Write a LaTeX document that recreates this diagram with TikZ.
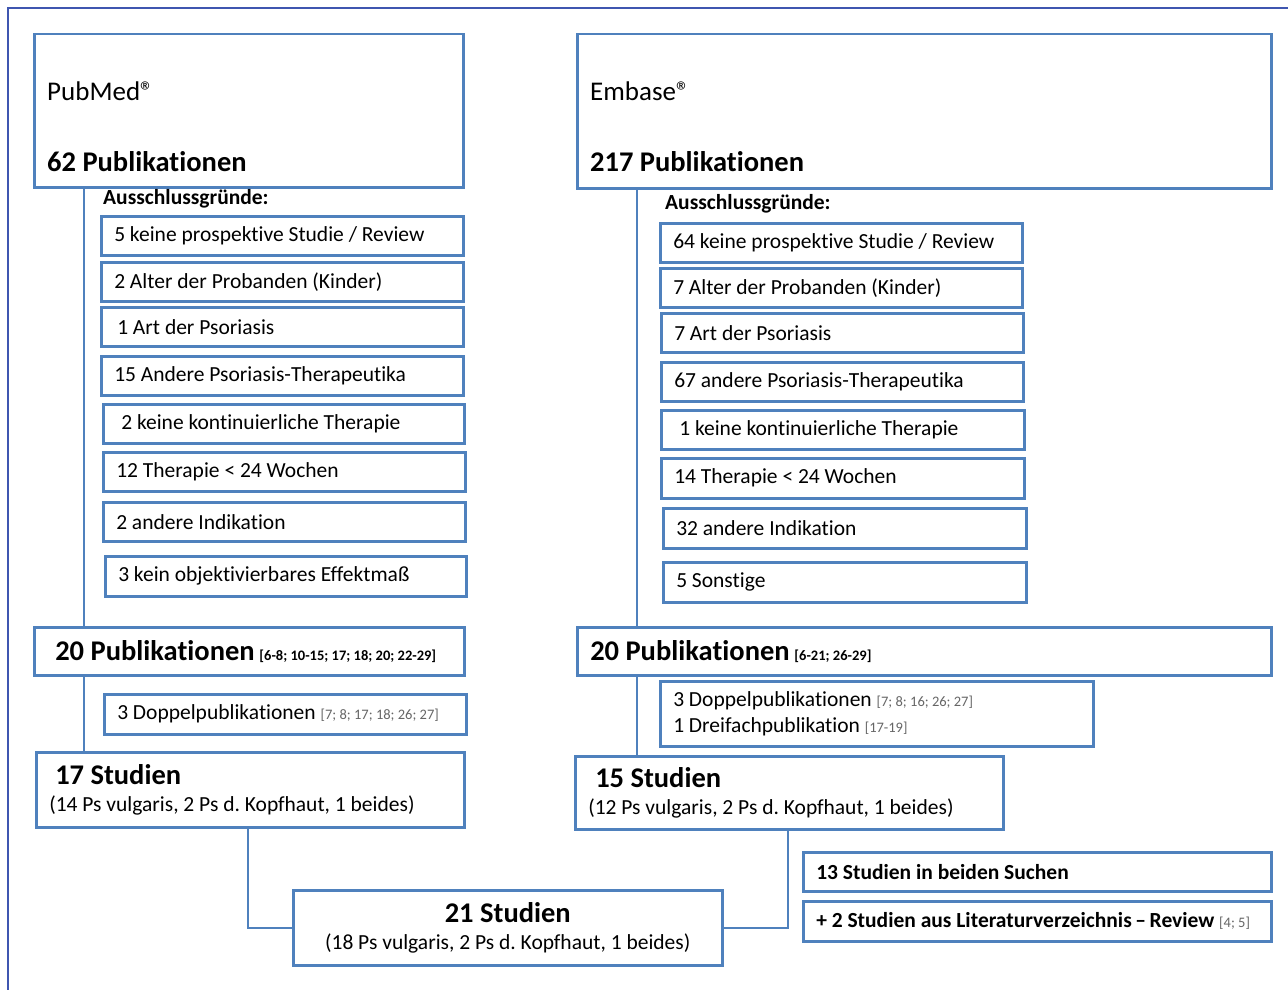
\documentclass[tikz,border=0pt]{standalone}
\usepackage{fontspec}
\setmainfont{Carlito}[Ligatures=NoCommon]
\usetikzlibrary{positioning}
\definecolor{boxblue}{HTML}{4F81BD}
\definecolor{frameblue}{HTML}{3F56B0}
\frenchspacing
\newcommand{\tightsp}{\spaceskip=0.226em\xspaceskip=\spaceskip\relax}
\newcommand{\fsz}[1]{\fontsize{#1}{1.17\dimexpr #1pt\relax}\selectfont\tightsp}
\newcommand{\refb}[1]{{\fsz{14.5}\bfseries #1}}
\newcommand{\refg}[1]{{\fsz{14.5}\color{black!60}#1}}
\newcommand{\regmark}{{\fsz{27}®}}

\begin{document}
\begin{tikzpicture}[x=1pt,y=-1pt,
    box/.style={draw=boxblue,line width=2.5pt,fill=white,anchor=north west,align=left,inner xsep=13pt,inner ysep=0pt,font=\fsz{21.5},execute at begin node=\tightsp},
    lbl/.style={inner sep=0pt},
    big/.style={font=\fsz{28.5}\bfseries},
    link/.style={draw=boxblue,line width=2.5pt},
    frame/.style={draw=frameblue,line width=1.2pt}]

    \useasboundingbox (0,0) rectangle (1288,990);
    \draw[frame] (8,990) -- (8,8) -- (1288,8);

    % PubMed
    \node[box,minimum height=153pt,text width=403pt] (pubmed) at (33,33) {};
    \node[lbl,anchor=base west,font=\fsz{27}] (pubmedname) at ([shift={(14,67)}]pubmed.north west) {PubMed\regmark};
    \node[lbl,big,anchor=base west] (pubmedcount) at ([shift={(14,138)}]pubmed.north west) {62 Publikationen};
    \node[lbl,anchor=west,font=\fsz{21.5}\bfseries] (ausl) at (103,199) {Ausschlussgründe:};

    \node[box,minimum height=39pt,text width=336pt] (exl1) at (100,215) {5 keine prospektive Studie / Review};
    \node[box,minimum height=39pt,text width=336pt] (exl2) at (100,261) {2 Alter der Probanden (Kinder)};
    \node[box,minimum height=39pt,text width=336pt] (exl3) at (100,306) {\hspace{3pt}1 Art der Psoriasis};
    \node[box,minimum height=39pt,text width=336pt] (exl4) at (100,355) {15 Andere Psoriasis-Therapeutika};
    \node[box,minimum height=39pt,text width=335pt] (exl5) at (102,403) {\hspace{5pt}2 keine kontinuierliche Therapie};
    \node[box,minimum height=39pt,text width=336pt] (exl6) at (102,451) {12 Therapie < 24 Wochen};
    \node[box,minimum height=39pt,text width=336pt] (exl7) at (102,501) {2 andere Indikation};
    \node[box,minimum height=40pt,text width=335pt] (exl8) at (104,555) {3 kein objektivierbares Effektmaß};

    \node[box,minimum height=48pt,text width=404pt] (pub20l) at (33,626) {\hspace{8pt}{\fsz{28.5}\bfseries 20 Publikationen} \refb{[6-8; 10-15; 17; 18; 20; 22-29]}};
    \node[box,minimum height=40pt,text width=336pt] (doppl) at (103,693) {3 Doppelpublikationen \refg{[7; 8; 17; 18; 26; 27]}};
    \node[box,minimum height=75pt,text width=402pt] (stud17) at (35,751) {\hspace{6pt}{\fsz{28.5}\bfseries 17 Studien}\\[2pt](14 Ps vulgaris, 2 Ps d. Kopfhaut, 1 beides)};

    % Embase
    \node[box,minimum height=154pt,text width=668pt] (embase) at (576,33) {};
    \node[lbl,anchor=base west,font=\fsz{27}] (embasename) at ([shift={(14,67)}]embase.north west) {Embase\regmark};
    \node[lbl,big,anchor=base west] (embasecount) at ([shift={(14,138)}]embase.north west) {217 Publikationen};
    \node[lbl,anchor=west,font=\fsz{21.5}\bfseries] (ausr) at (665,204) {Ausschlussgründe:};

    \node[box,minimum height=39pt,text width=336pt] (exr1) at (659,222) {64 keine prospektive Studie / Review};
    \node[box,minimum height=39pt,text width=336pt] (exr2) at (659,267) {7 Alter der Probanden (Kinder)};
    \node[box,minimum height=39pt,text width=336pt] (exr3) at (660,312) {7 Art der Psoriasis};
    \node[box,minimum height=39pt,text width=336pt] (exr4) at (660,361) {67 andere Psoriasis-Therapeutika};
    \node[box,minimum height=39pt,text width=337pt] (exr5) at (660,409) {\hspace{5pt}1 keine kontinuierliche Therapie};
    \node[box,minimum height=40pt,text width=337pt] (exr6) at (660,457) {14 Therapie < 24 Wochen};
    \node[box,minimum height=40pt,text width=337pt] (exr7) at (662,507) {32 andere Indikation};
    \node[box,minimum height=40pt,text width=337pt] (exr8) at (662,561) {5 Sonstige};

    \node[box,minimum height=48pt,text width=668pt] (pub20r) at (576,626) {{\fsz{28.5}\bfseries 20 Publikationen} \refb{[6-21; 26-29]}};
    \node[box,minimum height=65pt,text width=407pt] (doppr) at (659,680) {3 Doppelpublikationen \refg{[7; 8; 16; 26; 27]}\\[1pt]1 Dreifachpublikation \refg{[17-19]}};
    \node[box,minimum height=73pt,text width=402pt] (stud15) at (574,755) {\hspace{7pt}{\fsz{28.5}\bfseries 15 Studien}\\[2pt](12 Ps vulgaris, 2 Ps d. Kopfhaut, 1 beides)};

    \node[box,minimum height=39pt,text width=442pt,font=\fsz{21.5}\bfseries] (both13) at (802,851) {13 Studien in beiden Suchen};
    \node[box,minimum height=40pt,text width=442pt,font=\fsz{21.5}\bfseries] (plus2) at (802,900) {+ 2 Studien aus Literaturverzeichnis\,--\,Review \refg{\mdseries[4; 5]}};

    % Ergebnis
    \node[box,align=center,minimum height=75pt,text width=403pt] (stud21) at (292,889) {{\fsz{28.5}\bfseries 21 Studien}\\[2pt](18 Ps vulgaris, 2 Ps d. Kopfhaut, 1 beides)};

    \draw[link] ([xshift=51pt]pubmed.south west) -- ([xshift=51pt]pub20l.north west);
    \draw[link] ([xshift=51pt]pub20l.south west) -- ([xshift=51pt]pub20l.south west |- stud17.north);
    \draw[link] ([xshift=61pt]embase.south west) -- ([xshift=61pt]pub20r.north west);
    \draw[link] ([xshift=61pt]pub20r.south west) -- ([xshift=61pt]pub20r.south west |- stud15.north);
    \draw[link] ([xshift=213pt]stud17.south west) |- (stud21.west);
    \draw[link] ([xshift=214pt]stud15.south west) |- (stud21.east);
\end{tikzpicture}
\end{document}
